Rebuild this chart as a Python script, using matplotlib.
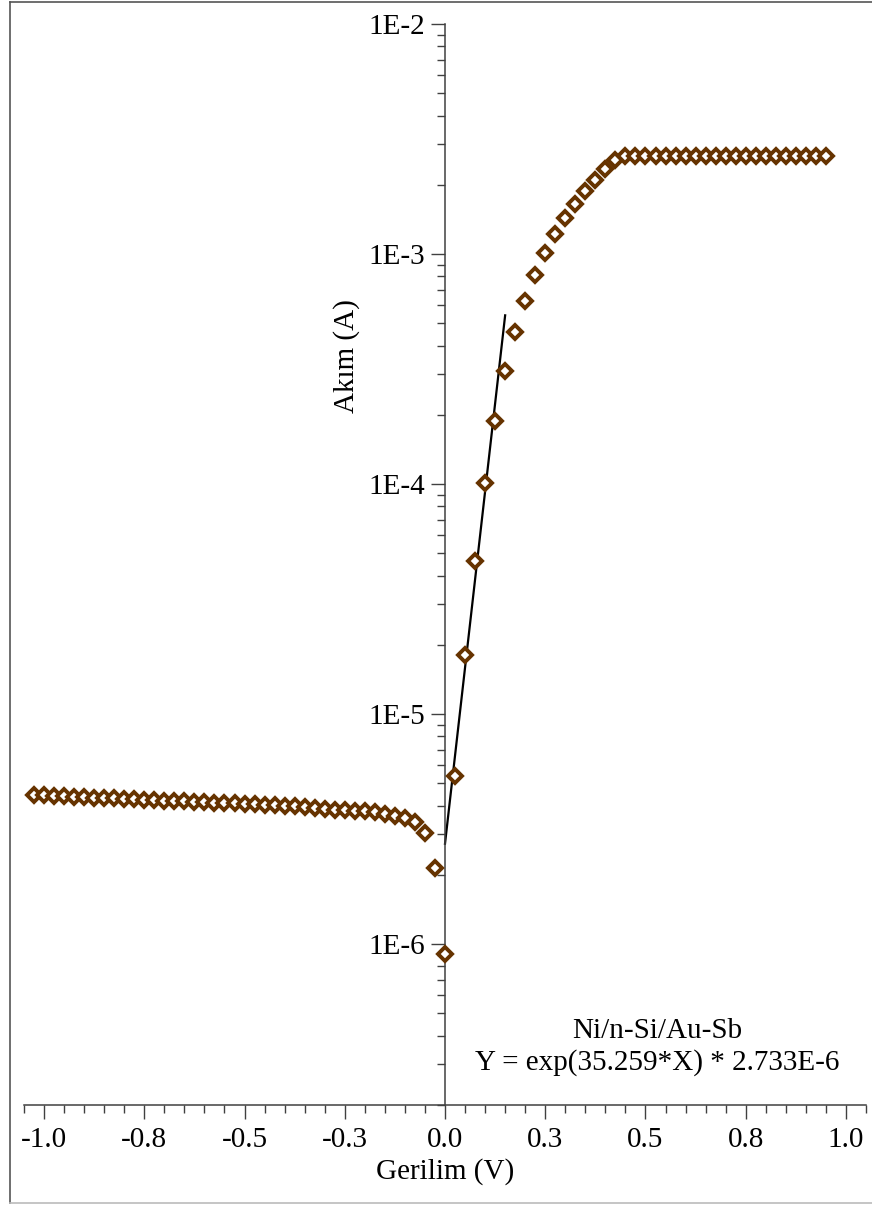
import numpy as np
import matplotlib
matplotlib.use("Agg")
import matplotlib.pyplot as plt
from matplotlib.ticker import MultipleLocator, LogLocator, NullFormatter
from matplotlib.lines import Line2D

plt.rcParams["font.family"] = ["Liberation Serif", "DejaVu Serif"]

# Reverse bias points (V, A)
v_rev = [-1.025, -1.0, -0.975, -0.95, -0.925, -0.9, -0.875, -0.85, -0.825, -0.8,
         -0.775, -0.75, -0.725, -0.7, -0.675, -0.65, -0.625, -0.6, -0.575, -0.55,
         -0.525, -0.5, -0.475, -0.45, -0.425, -0.4, -0.375, -0.35, -0.325, -0.3,
         -0.275, -0.25, -0.225, -0.2, -0.175, -0.15, -0.125, -0.1, -0.075, -0.05,
         -0.025]
i_rev = [4.45e-6, 4.43e-6, 4.41e-6, 4.39e-6, 4.375e-6, 4.36e-6, 4.34e-6, 4.32e-6, 4.30e-6, 4.28e-6,
         4.265e-6, 4.25e-6, 4.23e-6, 4.21e-6, 4.19e-6, 4.175e-6, 4.16e-6, 4.14e-6, 4.12e-6, 4.10e-6,
         4.09e-6, 4.07e-6, 4.05e-6, 4.035e-6, 4.015e-6, 4.00e-6, 3.97e-6, 3.94e-6, 3.91e-6, 3.87e-6,
         3.85e-6, 3.83e-6, 3.80e-6, 3.78e-6, 3.74e-6, 3.68e-6, 3.62e-6, 3.53e-6, 3.41e-6, 3.04e-6,
         2.15e-6]

# Forward bias points (V, A)
v_fwd = [0.0, 0.025, 0.05, 0.075, 0.1, 0.125, 0.15, 0.175, 0.2, 0.225,
         0.25, 0.275, 0.3, 0.325, 0.35, 0.375, 0.4, 0.425, 0.45, 0.475,
         0.5, 0.525, 0.55, 0.575, 0.6, 0.625, 0.65, 0.675, 0.7, 0.725,
         0.75, 0.775, 0.8, 0.825, 0.85, 0.875, 0.9, 0.925, 0.95]
i_fwd = [9.1e-7, 5.36e-6, 1.815e-5, 4.62e-5, 1.007e-4, 1.88e-4, 3.09e-4, 4.59e-4, 6.26e-4, 8.12e-4,
         1.009e-3, 1.221e-3, 1.437e-3, 1.654e-3, 1.878e-3, 2.097e-3, 2.334e-3, 2.570e-3, 2.658e-3, 2.658e-3,
         2.658e-3, 2.658e-3, 2.658e-3, 2.658e-3, 2.658e-3, 2.658e-3, 2.658e-3, 2.658e-3, 2.658e-3, 2.658e-3,
         2.658e-3, 2.658e-3, 2.658e-3, 2.658e-3, 2.658e-3, 2.658e-3, 2.658e-3, 2.658e-3, 2.658e-3]

# Exponential fit shown on the chart
fit_a = 35.259
fit_i0 = 2.733e-6
fit_v = [0.0, 0.15]

xticks = [-1.0, -0.75, -0.5, -0.25, 0.0, 0.25, 0.5, 0.75, 1.0]
xlabels = ["-1.0", "-0.8", "-0.5", "-0.3", "0.0", "0.3", "0.5", "0.8", "1.0"]
yticks = [1e-6, 1e-5, 1e-4, 1e-3, 1e-2]
ylabels = ["1E-6", "1E-5", "1E-4", "1E-3", "1E-2"]

brown = "#663300"
axis_col = "#404040"
fs = 21

fig = plt.figure(figsize=(8.72, 12.05), dpi=100)
ax = fig.add_axes([24 / 872, 100 / 1205, 842 / 872, 1081 / 1205])

v_all = v_rev + v_fwd
i_all = i_rev + i_fwd
ax.plot(v_all, i_all, linestyle="none", marker="D", markersize=7.5,
        markerfacecolor="white", markeredgecolor=brown, markeredgewidth=2.8, zorder=3)

fv = np.array(fit_v)
ax.plot(fv, np.exp(fit_a * fv) * fit_i0, color="black", lw=1.6, zorder=2)

ax.set_yscale("log")
ax.set_xlim(-1.05, 1.05)
ax.set_ylim(2e-7, 1e-2)

ax.spines["left"].set_position(("data", 0))
ax.spines["right"].set_visible(False)
ax.spines["top"].set_visible(False)
for s in ("left", "bottom"):
    ax.spines[s].set_color(axis_col)
    ax.spines[s].set_linewidth(1.1)

ax.set_xticks(xticks, labels=xlabels)
ax.xaxis.set_minor_locator(MultipleLocator(0.05))
ax.set_yticks(yticks, labels=ylabels)
ax.yaxis.set_minor_locator(LogLocator(base=10, subs=np.arange(2, 10)))
ax.yaxis.set_minor_formatter(NullFormatter())

ax.tick_params(which="major", direction="out", length=10, width=1.0, color=axis_col,
               labelsize=fs, pad=4)
ax.tick_params(axis="x", which="major", pad=6)
ax.tick_params(which="minor", direction="out", length=6, width=1.0, color=axis_col)

ax.text(0.752, 0.0535, "Ni/n-Si/Au-Sb\nY = exp(35.259*X) * 2.733E-6",
        transform=ax.transAxes, ha="center", va="center", fontsize=fs, linespacing=1.25)

fig.text(347 / 872, 1 - 356 / 1205, "Akım (A)", rotation=90, ha="center", va="center", fontsize=fs)
fig.text(445 / 872, 1 - 1172 / 1205, "Gerilim (V)", ha="center", va="center", fontsize=fs)

# outer frame
fig.add_artist(Line2D([10 / 872, 1.0], [1 - 2 / 1205, 1 - 2 / 1205], color="#555555", lw=1.2))
fig.add_artist(Line2D([10 / 872, 10 / 872], [1 - 2 / 1205, 2 / 1205], color="#555555", lw=1.2))
fig.add_artist(Line2D([10 / 872, 1.0], [2 / 1205, 2 / 1205], color="#bbbbbb", lw=1.2))

fig.savefig("out.png", dpi=100)
